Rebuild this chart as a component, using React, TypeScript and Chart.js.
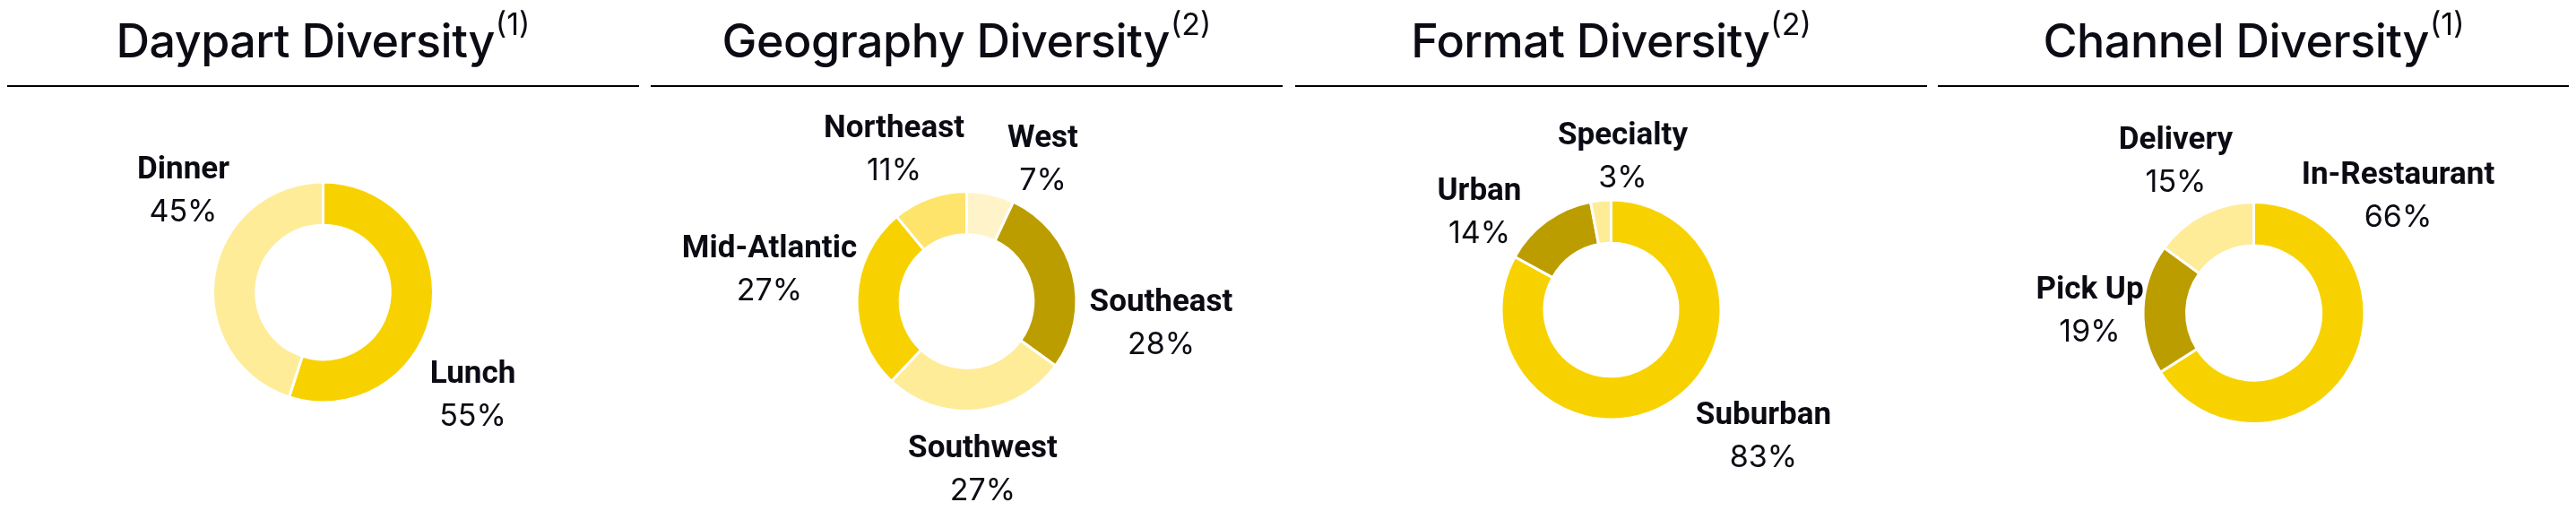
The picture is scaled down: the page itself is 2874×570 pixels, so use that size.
import React, { useEffect, useRef } from 'react';
import { Chart, registerables } from 'chart.js';

Chart.register(...registerables);

// ---------- colours ----------
const GOLD = '#F8D200';
const OLIVE = '#BC9D00';
const LIGHT = '#FEEC99';
const MEDIUM = '#FEE46B';
const PALE = '#FFF4C9';
const INK = '#0B0B14';

// ---------- data ----------
const daypartCategories = ['Lunch', 'Dinner'];
const daypartValues = [55, 45];

const geographyCategories = ['West', 'Southeast', 'Southwest', 'Mid-Atlantic', 'Northeast'];
const geographyValues = [7, 28, 27, 27, 11];

const formatCategories = ['Suburban', 'Urban', 'Specialty'];
const formatValues = [83, 14, 3];

const channelCategories = ['In-Restaurant', 'Pick Up', 'Delivery'];
const channelValues = [66, 19, 15];

const panelTitles = ['Daypart Diversity', 'Geography Diversity', 'Format Diversity', 'Channel Diversity'];
const panelNotes = ['(1)', '(2)', '(2)', '(1)'];

// ---------- layout (canvas px) ----------
const W = 705;
const H = 554;
const BW = 3;
const TITLE_FONT = '500 52px Inter';
const NOTE_FONT = '400 34px Inter';
const NAME_FONT = '700 35px Roboto';
const PCT_FONT = '400 34px Inter';
const PCT_GAP = 48;

type PanelCfg = {
  title: string;
  note: string;
  categories: string[];
  values: number[];
  colors: string[];
  left: number;
  cy: number;
  r: number;
  labelOffsets: [number, number][];
};

const panels: PanelCfg[] = [
  {
    title: panelTitles[0], note: panelNotes[0],
    categories: daypartCategories, values: daypartValues,
    colors: [GOLD, LIGHT],
    left: 0, cy: 318, r: 121.5,
    labelOffsets: [[167, 101], [-156, -127]],
  },
  {
    title: panelTitles[1], note: panelNotes[1],
    categories: geographyCategories, values: geographyValues,
    colors: [PALE, OLIVE, LIGHT, GOLD, MEDIUM],
    left: 718, cy: 328, r: 121,
    labelOffsets: [[85, -172], [217, 11], [18, 174], [-220, -49], [-81, -183]],
  },
  {
    title: panelTitles[2], note: panelNotes[2],
    categories: formatCategories, values: formatValues,
    colors: [GOLD, OLIVE, LIGHT],
    left: 1437, cy: 337.5, r: 121,
    labelOffsets: [[170, 127.5], [-147, -122.5], [13, -184.5]],
  },
  {
    title: panelTitles[3], note: panelNotes[3],
    categories: channelCategories, values: channelValues,
    colors: [GOLD, OLIVE, LIGHT],
    left: 2154, cy: 341, r: 122,
    labelOffsets: [[161, -144], [-183, -16], [-87, -183]],
  },
];

function makePanelPlugin(cfg: PanelCfg) {
  return {
    id: 'panelDecor',
    afterDraw(chart: any) {
      const ctx: any = chart.ctx;
      const width = chart.width;
      ctx.save();
      // title with superscript note
      ctx.fillStyle = INK;
      ctx.textBaseline = 'alphabetic';
      ctx.textAlign = 'left';
      ctx.font = TITLE_FONT;
      if ('letterSpacing' in ctx) ctx.letterSpacing = '-0.5px';
      const w1 = ctx.measureText(cfg.title).width;
      ctx.font = NOTE_FONT;
      if ('letterSpacing' in ctx) ctx.letterSpacing = '0px';
      const w2 = ctx.measureText(cfg.note).width;
      const gap = 1;
      const x0 = width / 2 - (w1 + gap + w2) / 2;
      ctx.font = TITLE_FONT;
      if ('letterSpacing' in ctx) ctx.letterSpacing = '-0.5px';
      ctx.fillText(cfg.title, x0, 56);
      ctx.font = NOTE_FONT;
      if ('letterSpacing' in ctx) ctx.letterSpacing = '0px';
      ctx.fillText(cfg.note, x0 + w1 + gap, 31);
      // rule
      ctx.fillStyle = '#000000';
      ctx.fillRect(0, 87, width, 2);

      // slice labels
      const meta = chart.getDatasetMeta(0);
      const ds = chart.data.datasets[0];
      meta.data.forEach((arc: any, i: number) => {
        const off = cfg.labelOffsets[i];
        const x = arc.x + off[0];
        const y = arc.y + off[1];
        ctx.fillStyle = INK;
        ctx.textAlign = 'center';
        ctx.font = NAME_FONT;
        ctx.fillText(String(chart.data.labels[i]), x, y);
        ctx.font = PCT_FONT;
        ctx.fillText(`${ds.data[i]}%`, x, y + PCT_GAP);
      });
      ctx.restore();
    },
  };
}

function Panel({ cfg }: { cfg: PanelCfg }) {
  const ref = useRef<HTMLCanvasElement | null>(null);
  useEffect(() => {
    if (!ref.current) return;
    let cancelled = false;
    const cx = W / 2;
    const side = 2 * cfg.r + 2 * BW;
    const outer = (side - BW) / 2;
    const innerVisible = cfg.r * 0.627;
    const cutoutPct = ((innerVisible - BW / 2) / outer) * 100;
    const chart = new Chart(ref.current, {
      type: 'doughnut',
      data: {
        labels: cfg.categories,
        datasets: [
          {
            data: cfg.values,
            backgroundColor: cfg.colors,
            borderColor: '#ffffff',
            borderWidth: BW,
            hoverOffset: 0,
            offset: 0,
          } as any,
        ],
      },
      options: {
        responsive: false,
        animation: false,
        events: [],
        cutout: `${cutoutPct}%`,
        rotation: 0,
        circumference: 360,
        layout: {
          padding: {
            left: cx - side / 2,
            right: W - cx - side / 2,
            top: cfg.cy - side / 2,
            bottom: H - cfg.cy - side / 2,
          },
        },
        plugins: {
          legend: { display: false },
          tooltip: { enabled: false },
          title: { display: false },
        },
      } as any,
      plugins: [makePanelPlugin(cfg)],
    });
    const fontsApi: any = (document as any).fonts;
    if (fontsApi && fontsApi.load) {
      Promise.all([
        fontsApi.load(TITLE_FONT),
        fontsApi.load(NAME_FONT),
        fontsApi.load(PCT_FONT),
      ])
        .then(() => {
          if (!cancelled) chart.draw();
        })
        .catch(() => {});
    }
    return () => {
      cancelled = true;
      chart.destroy();
    };
  }, [cfg]);
  return (
    <canvas
      ref={ref}
      width={W}
      height={H}
      style={{ position: 'absolute', left: cfg.left, top: 0, width: W, height: H, display: 'block' }}
    />
  );
}

export default function App() {
  return (
    <div style={{ position: 'relative', width: 2858, height: H, overflow: 'hidden', background: '#ffffff' }}>
      {panels.map((p, i) => (
        <Panel key={i} cfg={p} />
      ))}
    </div>
  );
}
